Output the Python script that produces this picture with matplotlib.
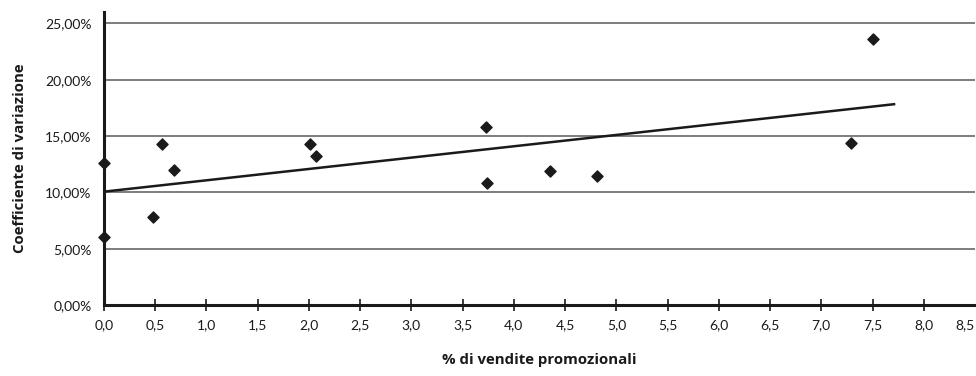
import numpy as np
import matplotlib
matplotlib.use("Agg")
import matplotlib.pyplot as plt
from matplotlib.ticker import FuncFormatter

plt.rcParams['font.family'] = ['Lato', 'DejaVu Sans']

# Data (x: % promotional sales, y: coefficient of variation)
promo_pct = [0.0, 0.0, 0.48, 0.57, 0.68, 2.01, 2.07, 3.73, 3.74, 4.35, 4.81, 7.29, 7.50]
coeff_var = [0.1264, 0.0603, 0.0783, 0.1430, 0.1200, 0.1433, 0.1320, 0.1583, 0.1087, 0.1193, 0.1146, 0.1439, 0.2360]
trend_range = [0.0, 7.71]
x_ticks = [0.0, 0.5, 1.0, 1.5, 2.0, 2.5, 3.0, 3.5, 4.0, 4.5, 5.0, 5.5, 6.0, 6.5, 7.0, 7.5, 8.0, 8.5]
y_ticks = [0.0, 0.05, 0.10, 0.15, 0.20, 0.25]

x_label = "% di vendite promozionali"
y_label = "Coefficiente di variazione"

fig = plt.figure(figsize=(9.76, 3.76), dpi=100)
ax = fig.add_axes([104/976, (376-305.3)/376, (975-104)/976, (305.3-12)/376])

# gridlines
ax.set_axisbelow(True)
ax.yaxis.grid(True, which='major', color='#5a5a5a', linewidth=1.1)
ax.xaxis.grid(False)

ax.scatter(promo_pct, coeff_var, marker='D', s=32, color='#1a1a1a', zorder=3, clip_on=False)

slope, intercept = np.polyfit(promo_pct, coeff_var, 1)
tx = np.array(trend_range)
ax.plot(tx, intercept + slope * tx, color='#1a1a1a', linewidth=1.8, zorder=2)

ax.set_xlim(0, 8.5)
ax.set_ylim(0, 0.26)
ax.set_xticks(x_ticks)
ax.set_yticks(y_ticks)
ax.set_yticks([0], minor=True)
ax.xaxis.set_major_formatter(FuncFormatter(lambda v, p: f"{v:.1f}".replace('.', ',')))
ax.yaxis.set_major_formatter(FuncFormatter(lambda v, p: f"{v*100:.2f}".replace('.', ',') + "%"))

for s in ['top', 'right']:
    ax.spines[s].set_visible(False)
for s in ['left', 'bottom']:
    ax.spines[s].set_linewidth(2.2)
    ax.spines[s].set_color('#1a1a1a')

ax.tick_params(axis='x', direction='inout', length=8, width=1.2, colors='#1a1a1a', labelsize=10, pad=6)
ax.tick_params(axis='y', which='major', length=0, colors='#1a1a1a', labelsize=10, pad=9)
ax.tick_params(axis='y', which='minor', direction='out', length=6, width=1.5, colors='#1a1a1a')

lab_font = dict(family=['Open Sans', 'DejaVu Sans'], fontsize=10.8, fontweight='bold', color='#1a1a1a')
ax.set_xlabel(x_label, labelpad=16, **lab_font)
ax.set_ylabel(y_label, labelpad=13, **lab_font)

# last x tick sits on the right edge: hide its mark and pull its label inward
fig.canvas.draw()
for t in ax.xaxis.get_major_ticks():
    if abs(t.get_loc() - x_ticks[-1]) < 1e-9:
        t.tick1line.set_visible(False)
        t.tick2line.set_visible(False)
        t.label1.set_horizontalalignment('right')
        t.label1.set_x(t.label1.get_position()[0])

fig.savefig("out.png", dpi=100)
